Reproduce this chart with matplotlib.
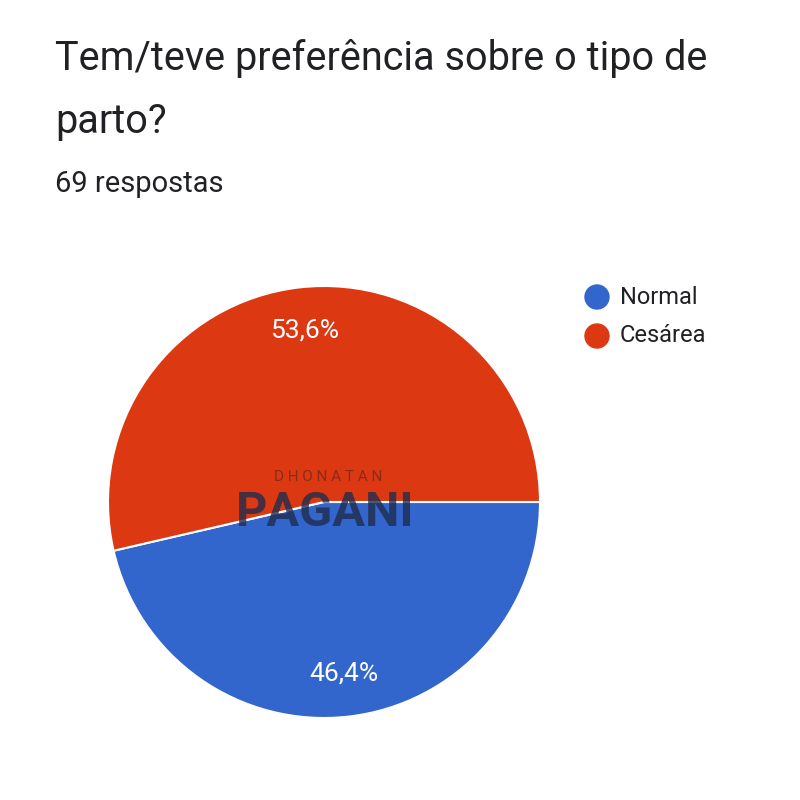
import matplotlib.pyplot as plt

plt.rcParams['font.family'] = ['Roboto', 'DejaVu Sans']

labels = ["Normal", "Cesárea"]
counts = [32, 37]
colors = ["#3366CC", "#DC3912"]
title = "Tem/teve preferência sobre o tipo de\nparto?"
subtitle = "69 respostas"

fig = plt.figure(figsize=(8, 8), dpi=100)
fig.patch.set_facecolor("white")

fig.text(0.069, 0.8875, title, fontsize=28.5, color="#202124", va="center", linespacing=1.8)
fig.text(0.069, 0.770, subtitle, fontsize=21, color="#202124", va="center")

ax = fig.add_axes([0.135, 0.1025, 0.54, 0.54])


def fmt(p):
    return f"{p:.1f}".replace(".", ",") + "%"


wedges, texts, autotexts = ax.pie(
    counts, colors=colors, startangle=0, counterclock=False,
    autopct=fmt, pctdistance=0.8,
    wedgeprops=dict(edgecolor="white", linewidth=1.5),
    textprops=dict(color="white", fontsize=19),
)
ax.set_xlim(-1, 1)
ax.set_ylim(-1, 1)
ax.set_aspect("equal")

# legend
for i, (lab, c) in enumerate(zip(labels, colors)):
    y = 1 - (297 + i * 39) / 800
    fig.patches.append(plt.Circle((597 / 800, y), 12 / 800, color=c,
                                  transform=fig.transFigure, figure=fig))
    fig.text(620 / 800, y, lab, fontsize=17, color="#202124", va="center")

# watermark
fig.text(328 / 800, 1 - 477 / 800, "D H O N A T A N", fontsize=11, color="#7a2a1a",
         ha="center", va="center", alpha=0.85)
fig.text(325 / 800, 1 - 513 / 800, "PAGANI", fontsize=35, color="#1f2d4d",
         ha="center", va="center", alpha=0.8, fontweight="bold")

fig.savefig("out.png", dpi=100)
